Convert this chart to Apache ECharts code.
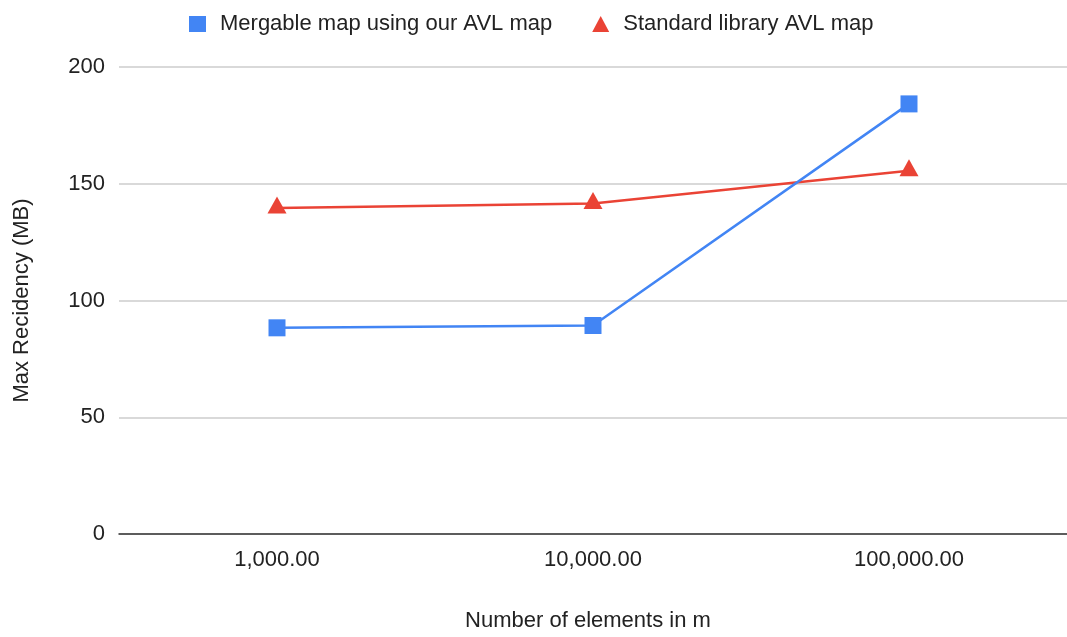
<!DOCTYPE html>
<html>
<head>
<meta charset="utf-8">
<script src="https://cdn.jsdelivr.net/npm/echarts@6/dist/echarts.min.js"></script>
<style>
  html, body { margin: 0; padding: 0; background: #fff; }
  #chart { width: 1067px; height: 637px; }
</style>
</head>
<body>
<div id="chart"></div>
<script>
// Element counts along the x axis
const categories = ['1,000.00', '10,000.00', '100,000.00'];
// Max residency (MB) for each map implementation
const mergableMap = [88.3, 89.3, 184.2];
const standardMap = [139.6, 141.5, 155.6];
// Y axis range
const yMin = 0;
const yMax = 200;
const yStep = 50;

const FONT = 'Arial, "Liberation Sans", sans-serif';
const TEXT_COLOR = '#222222';
const chart = echarts.init(document.getElementById('chart'), null, { renderer: 'canvas' });

chart.setOption({
  animation: false,
  backgroundColor: '#ffffff',
  textStyle: { fontFamily: FONT },
  legend: {
    top: 8,
    left: 184,
    itemGap: 40,
    itemWidth: 17,
    itemHeight: 16,
    textStyle: { fontFamily: FONT, fontSize: 22, color: TEXT_COLOR, padding: [0, 0, 0, 9] },
    data: [
      { name: 'Mergable map using our AVL map', icon: 'rect' },
      { name: 'Standard library AVL map', icon: 'triangle' }
    ]
  },
  grid: { left: 119, top: 67, width: 952, height: 471.5, containLabel: false },
  xAxis: {
    type: 'category',
    data: categories,
    boundaryGap: true,
    name: 'Number of elements in m',
    nameLocation: 'middle',
    nameGap: 76,
    nameTextStyle: { fontFamily: FONT, fontSize: 22, color: TEXT_COLOR, padding: [0, 10, 0, 0] },
    axisLine: { show: true, lineStyle: { color: '#333', width: 1.5 } },
    axisTick: { show: false },
    axisLabel: { fontFamily: FONT, fontSize: 22, color: TEXT_COLOR, margin: 15 }
  },
  yAxis: {
    type: 'value',
    min: yMin,
    max: yMax,
    interval: yStep,
    name: 'Max Recidency (MB)',
    nameLocation: 'middle',
    nameGap: 86,
    nameTextStyle: { fontFamily: FONT, fontSize: 22, color: TEXT_COLOR },
    axisLine: { show: false },
    axisTick: { show: false },
    axisLabel: { fontFamily: FONT, fontSize: 22, color: TEXT_COLOR, margin: 14 },
    splitLine: { lineStyle: { color: '#cccccc', width: 1.5 } }
  },
  series: [
    {
      name: 'Mergable map using our AVL map',
      type: 'line',
      data: mergableMap,
      symbol: 'rect',
      symbolSize: 17,
      color: '#4285F4',
      lineStyle: { width: 2.5, color: '#4285F4' },
      itemStyle: { color: '#4285F4' },
      z: 3
    },
    {
      name: 'Standard library AVL map',
      type: 'line',
      data: standardMap,
      symbol: 'triangle',
      symbolSize: [19, 17],
      symbolOffset: [0, -3],
      color: '#EA4335',
      lineStyle: { width: 2.5, color: '#EA4335' },
      itemStyle: { color: '#EA4335' },
      z: 2
    }
  ]
});
</script>
</body>
</html>
